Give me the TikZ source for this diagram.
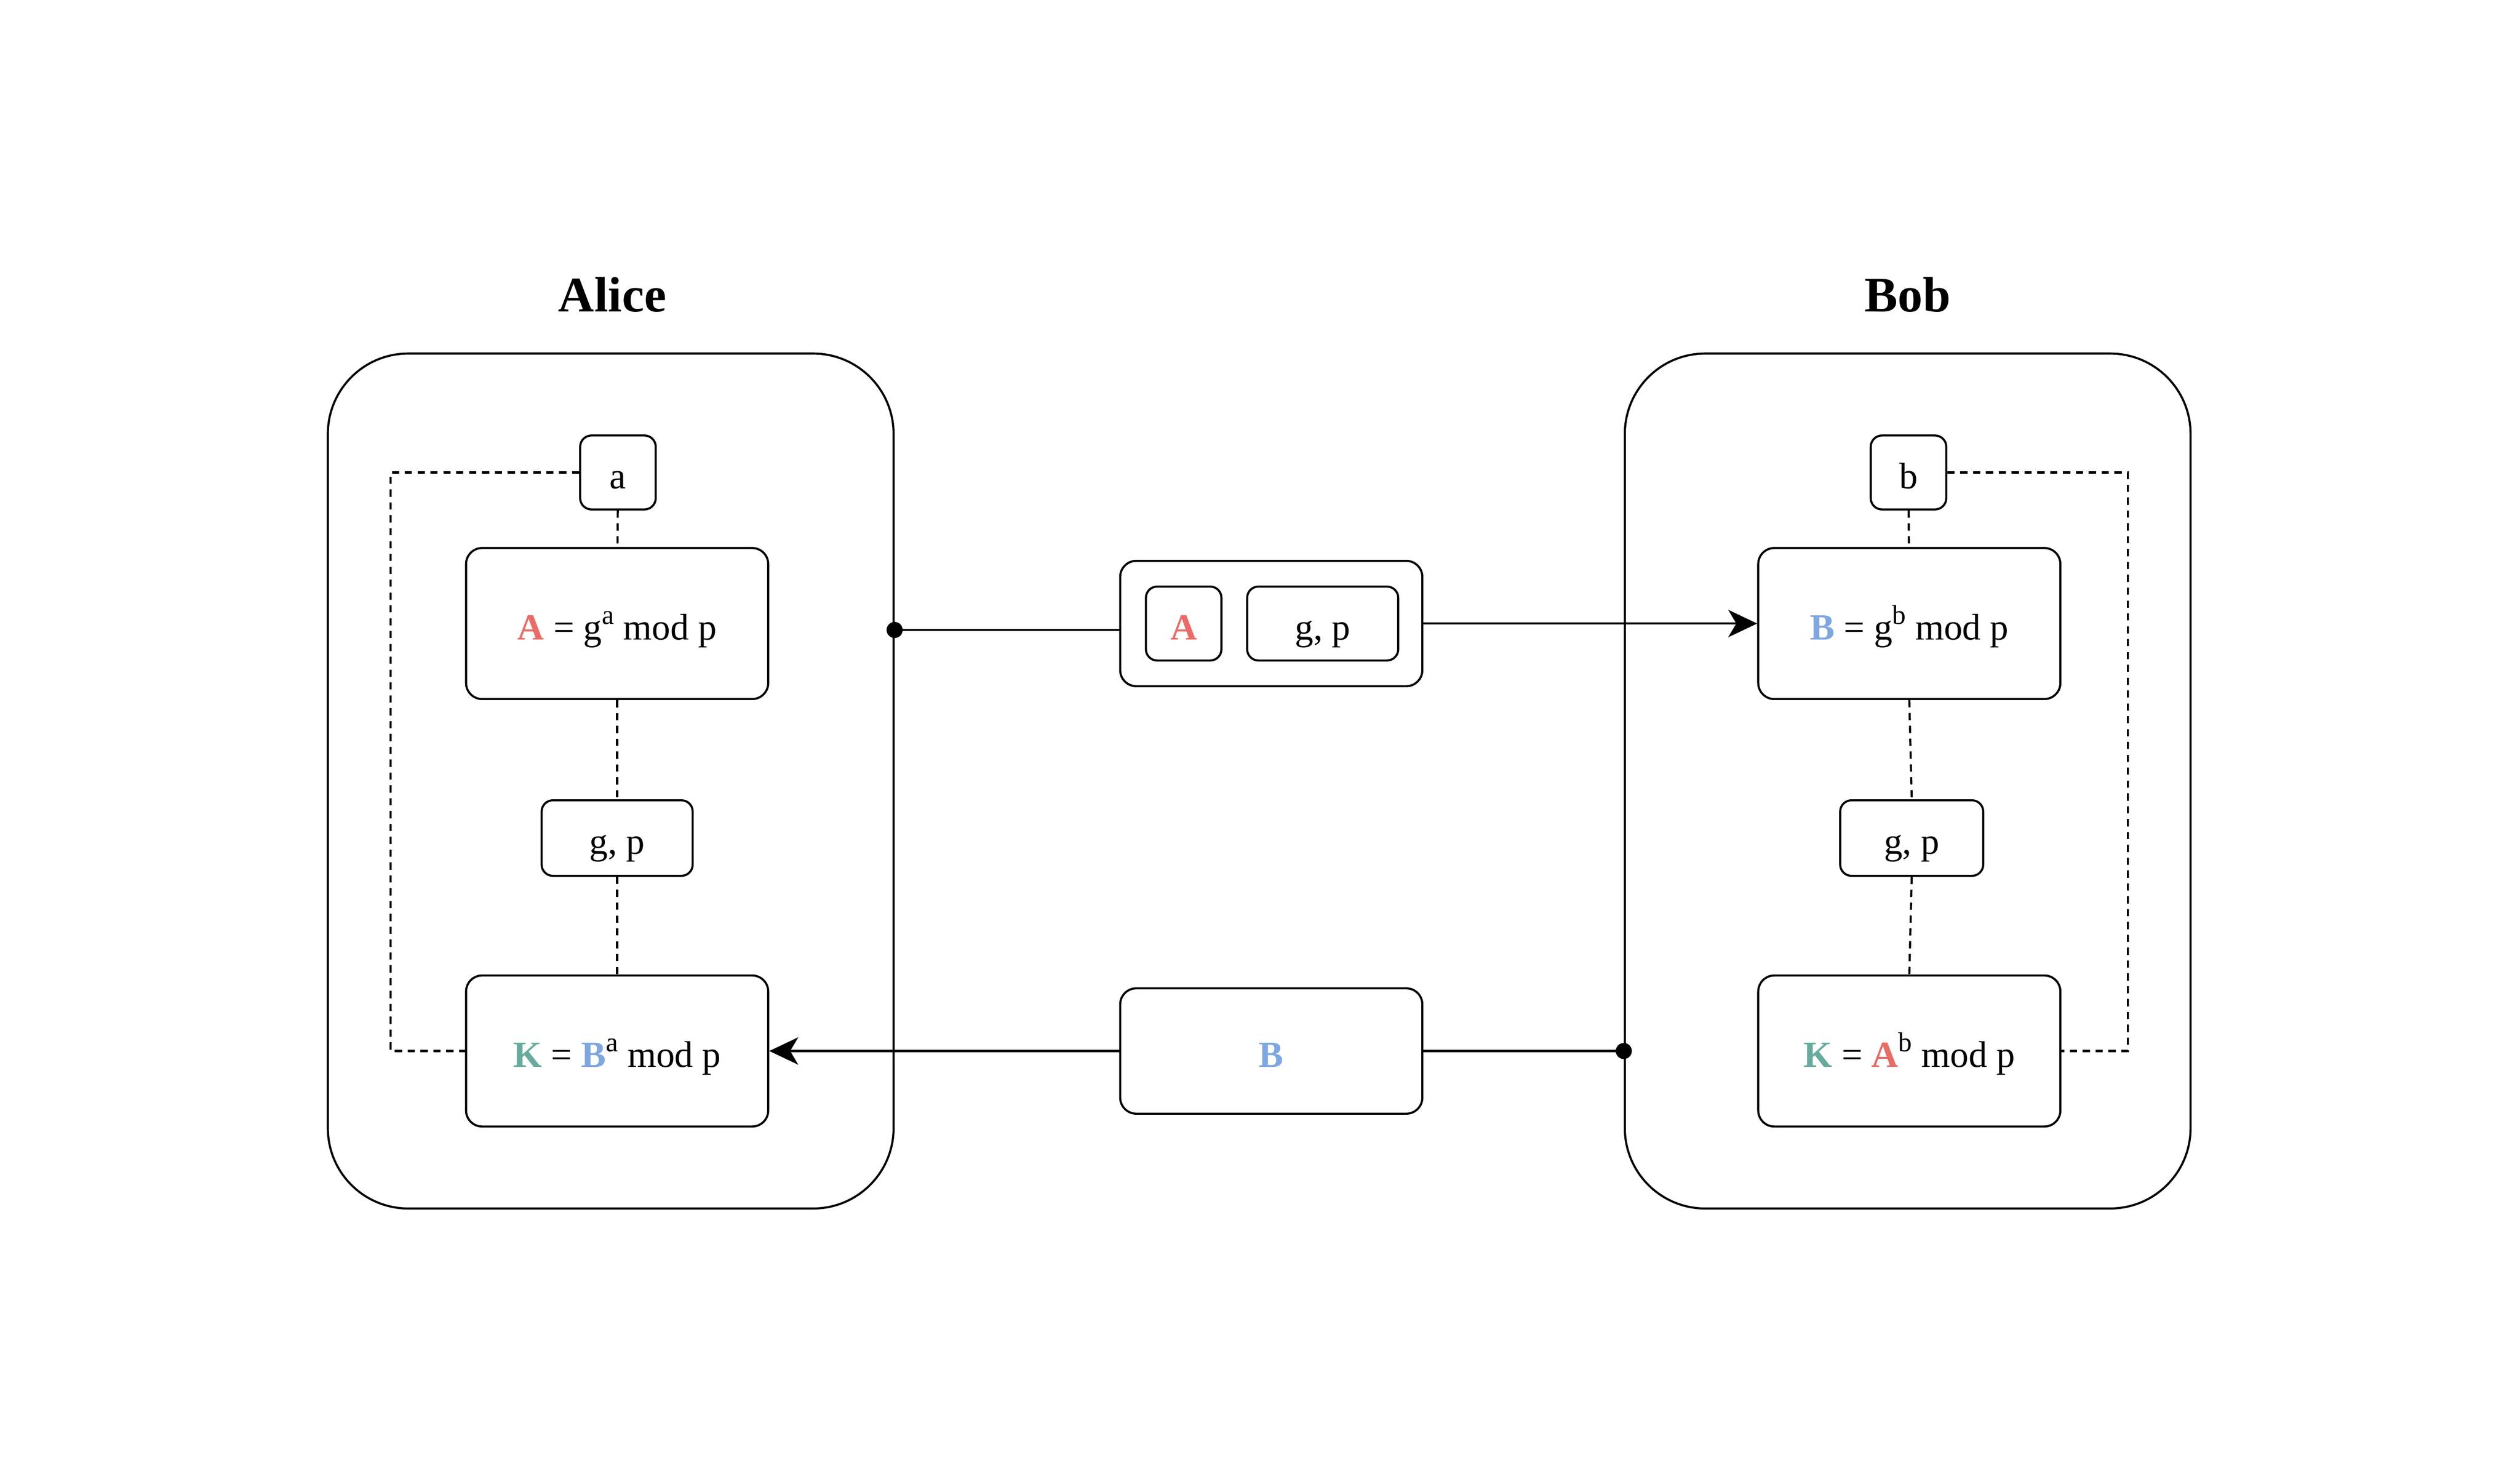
\documentclass[tikz,border=0pt]{standalone}
\usepackage{fontspec}
\setmainfont{Liberation Serif}
\usetikzlibrary{arrows.meta}
\definecolor{keyred}{HTML}{EA6B66}
\definecolor{keyblue}{HTML}{7EA6E0}
\definecolor{keygreen}{HTML}{67AB9F}
\tikzset{
  party/.style={draw, line width=1.3pt, rounded corners=50pt, minimum width=352pt, minimum height=532pt},
  box/.style={draw, line width=1.3pt, rounded corners=10pt, inner sep=0pt, text height=20pt, text depth=0pt, font=\fontsize{23}{27}\selectfont},
  smallbox/.style={box, rounded corners=7pt},
  title/.style={font=\fontsize{31}{36}\selectfont\bfseries, anchor=base},
  link/.style={line width=1.3pt},
  dashlink/.style={line width=1.3pt, dash pattern=on 4.5pt off 3.5pt},
}
\newcommand{\kA}{{\bfseries\color{keyred}A}}
\newcommand{\kB}{{\bfseries\color{keyblue}B}}
\newcommand{\kK}{{\bfseries\color{keygreen}K}}
\newcommand{\powr}[1]{\raisebox{0.42em}{\fontsize{17}{20}\selectfont #1}}
\begin{document}
\begin{tikzpicture}[x=1pt,y=-1pt]
        \useasboundingbox (0,0) rectangle (1568,910.1);
        % Alice
        \node[title] (alicet) at (381,194) {Alice};
        \node[party] (alice) at (380,486) {};
        \node[smallbox, minimum width=47pt, minimum height=46pt] (a) at (384.5,294) {a};
        \node[box, minimum width=188pt, minimum height=94pt] (Aeq) at (384,388) {\kA{} = g\powr{a} mod p};
        \node[smallbox, minimum width=94pt, minimum height=47pt] (agp) at (384,521.5) {g, p};
        \node[box, minimum width=188pt, minimum height=94pt] (aK) at (384,654) {\kK{} = \kB\powr{a} mod p};
        % Bob
        \node[title] (bobt) at (1187,194) {Bob};
        \node[party] (bob) at (1187,486) {};
        \node[smallbox, minimum width=47pt, minimum height=46pt] (b) at (1187.5,294) {b};
        \node[box, minimum width=188pt, minimum height=94pt] (Beq) at (1188,388) {\kB{} = g\powr{b} mod p};
        \node[smallbox, minimum width=89pt, minimum height=47pt] (bgp) at (1189.5,521.5) {g, p};
        \node[box, minimum width=188pt, minimum height=94pt] (bK) at (1188,654) {\kK{} = \kA\powr{b} mod p};
        % messages
        \node[box, minimum width=188pt, minimum height=78pt] (msgA) at (791,388) {};
        \node[smallbox, minimum width=47pt, minimum height=46pt] (msgAa) at (736.5,388) {\kA};
        \node[smallbox, minimum width=94pt, minimum height=46pt] (msgAgp) at (823,388) {g, p};
        \node[box, minimum width=188pt, minimum height=78pt] (msgB) at (791,654) {\kB};
        % dashed links
        \draw[dashlink] (a) -- (Aeq);
        \draw[dashlink] (Aeq) -- (agp);
        \draw[dashlink] (agp) -- (aK);
        \draw[dashlink] (a.west) -| (243,654) -- (aK.west);
        \draw[dashlink] (b) -- (Beq);
        \draw[dashlink] (Beq.south) -- (bgp.north);
        \draw[dashlink] (bgp.south) -- (bK.north);
        \draw[dashlink] (b.east) -| (1324,654) -- (bK.east);
        % exchange
        \coordinate (aout) at (alice.east |- 0,392);
        \coordinate (bout) at (bob.west |- msgB.east);
        \draw[link] (aout) -- (msgA.west |- aout);
        \draw[link, -{Stealth[length=18pt,width=17pt,inset=5pt]}] (msgA.east) -- (Beq.west);
        \draw[link] (msgB.east) -- (bout);
        \draw[link, -{Stealth[length=18pt,width=17pt,inset=5pt]}] (msgB.west) -- (aK.east);
        \fill (aout) circle (5pt);
        \fill (bout) circle (5pt);
\end{tikzpicture}
\end{document}
